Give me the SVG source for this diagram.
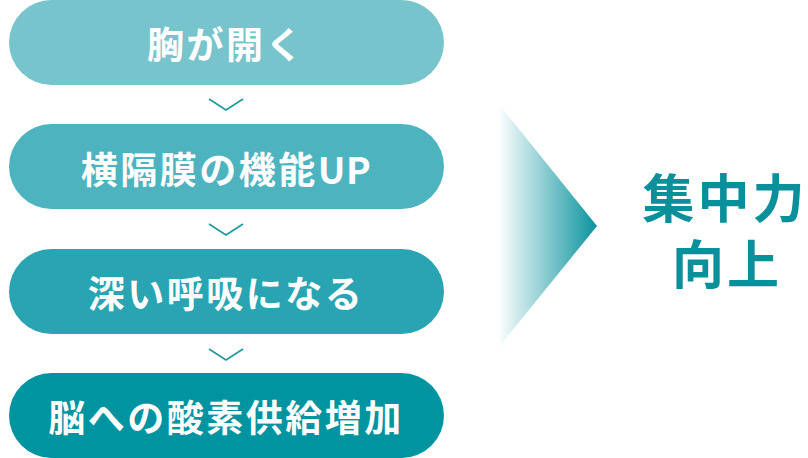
<svg xmlns="http://www.w3.org/2000/svg" width="808" height="458" viewBox="0 0 808 458">
  <style>
    .lbl { font-family: "Noto Sans CJK JP", "Noto Sans", sans-serif; font-weight: 700; font-size: 37px; fill: #ffffff; text-anchor: middle; letter-spacing: 2.5px; }
    .big { font-family: "Noto Sans CJK JP", "Noto Sans", sans-serif; font-weight: 700; font-size: 52px; fill: #0a909a; text-anchor: middle; letter-spacing: 3px; }
    .chev { fill: none; stroke: #1a9a9c; stroke-width: 1.6; }
  </style>
  <defs>
    <linearGradient id="arrowGrad" x1="498" y1="0" x2="597" y2="0" gradientUnits="userSpaceOnUse">
      <stop offset="0" stop-color="#ffffff"/>
      <stop offset="1" stop-color="#0a939e"/>
    </linearGradient>
  </defs>
  <rect width="808" height="458" fill="#ffffff"/>
  <g id="node1">
    <rect x="9" y="0" width="435" height="85" rx="42.5" fill="#77c4cc"/>
    <text class="lbl" x="226" y="59">胸が開く</text>
  </g>
  <g id="node2">
    <rect x="9" y="124" width="435" height="85" rx="42.5" fill="#4db3bf"/>
    <text class="lbl" x="226" y="184">横隔膜の機能<tspan letter-spacing="0.5">UP</tspan></text>
  </g>
  <g id="node3">
    <rect x="9" y="249" width="435" height="85" rx="42.5" fill="#28a4b2"/>
    <text class="lbl" x="226" y="308">深い呼吸になる</text>
  </g>
  <g id="node4">
    <rect x="9" y="373" width="435" height="85" rx="42.5" fill="#0093a0"/>
    <text class="lbl" x="226" y="432">脳への酸素供給増加</text>
  </g>
  <g id="connectors">
    <polyline class="chev" points="209,99 226,110 243,99"/>
    <polyline class="chev" points="209,224 226,235 243,224"/>
    <polyline class="chev" points="209,349 226,360 243,349"/>
    <polygon points="498,103 597,226 498,348" fill="url(#arrowGrad)"/>
  </g>
  <g id="result">
    <text class="big"><tspan x="725" y="218">集中力</tspan><tspan x="727" y="284">向上</tspan></text>
  </g>
</svg>
